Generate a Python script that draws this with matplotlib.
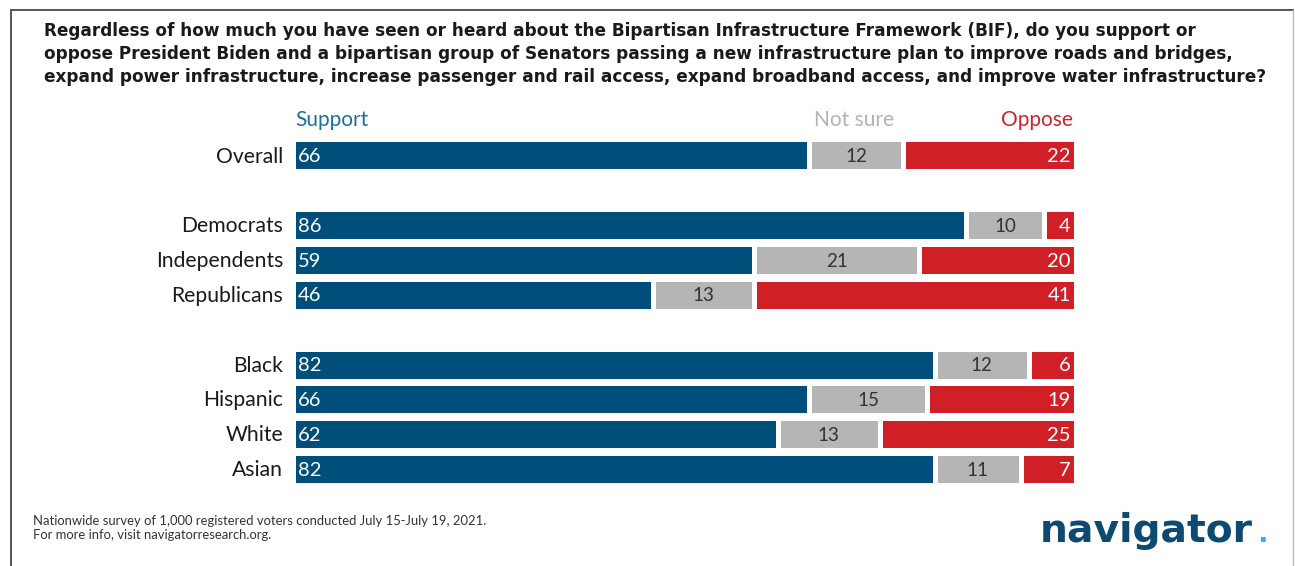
"""Stacked support / not sure / oppose bars for the BIF survey question."""

import matplotlib
matplotlib.use("Agg")
import matplotlib.pyplot as plt
from matplotlib.lines import Line2D

W, H = 1295, 566

categories = ["Overall", "Democrats", "Independents", "Republicans",
              "Black", "Hispanic", "White", "Asian"]
row_pos = [0, 2, 3, 4, 6, 7, 8, 9]
support = [66, 86, 59, 46, 82, 66, 62, 82]
not_sure = [12, 10, 21, 13, 12, 15, 13, 11]
oppose = [22, 4, 20, 41, 6, 19, 25, 7]

TITLE_LINES = [
    "Regardless of how much you have seen or heard about the Bipartisan Infrastructure Framework (BIF), do you support or",
    "oppose President Biden and a bipartisan group of Senators passing a new infrastructure plan to improve roads and bridges,",
    "expand power infrastructure, increase passenger and rail access, expand broadband access, and improve water infrastructure?",
]
FOOTNOTE = ("Nationwide survey of 1,000 registered voters conducted July 15-July 19, 2021.\n"
            "For more info, visit navigatorresearch.org.")

BLUE = "#004e7a"
GRAY = "#b5b5b5"
RED = "#d01f27"
FONT = "Lato"

plt.rcParams["font.family"] = [FONT, "DejaVu Sans"]


def fx(x):
    return x / W


def fy(y):
    return 1 - y / H


fig = plt.figure(figsize=(W / 100, H / 100), dpi=100)
fig.patch.set_facecolor("white")

# bar area: 0..100 spans x 295..1073, rows 0..9 centred 155.5..469
row_px = (469 - 155.5) / 9
top_px = 155.5 - 0.5 * row_px
bot_px = 469 + 0.5 * row_px
ax = fig.add_axes([fx(292.5), fy(bot_px), 783 / W, (bot_px - top_px) / H])
ax.set_xlim(0, 100)
ax.set_ylim(9.5, -0.5)
ax.axis("off")

bar_h = (27 + 5) / row_px
lefts_ns = [s for s in support]
lefts_op = [s + n for s, n in zip(support, not_sure)]
kw = dict(height=bar_h, edgecolor="white", linewidth=3.6)
ax.barh(row_pos, support, left=0, color=BLUE, **kw)
ax.barh(row_pos, not_sure, left=lefts_ns, color=GRAY, **kw)
ax.barh(row_pos, oppose, left=lefts_op, color=RED, **kw)

for y, s, n, o, cat in zip(row_pos, support, not_sure, oppose, categories):
    ax.text(0.7, y + 0.03, str(s), color="white", fontsize=14.5, va="center", ha="left")
    ax.text(s + n / 2, y + 0.03, str(n), color="#333333", fontsize=13.5, va="center", ha="center")
    ax.text(99.4, y + 0.03, str(o), color="white", fontsize=14.5, va="center", ha="right")
    ax.text(-1.2, y + 0.03, cat, color="#1a1a1a", fontsize=15.2, va="center", ha="right")

# column headers
fig.text(fx(295), fy(126.5), "Support", color="#1f6e9c", fontsize=15, va="baseline", ha="left")
fig.text(fx(854), fy(126.5), "Not sure", color="#b3b3b3", fontsize=15, va="baseline", ha="center")
fig.text(fx(1073), fy(126.5), "Oppose", color="#d0212d", fontsize=15, va="baseline", ha="right")

for i, line in enumerate(TITLE_LINES):
    fig.text(fx(44), fy(36.5 + 22.5 * i), line, fontsize=12.2, fontweight="bold",
             family="DejaVu Sans", color="#1a1a1a", va="baseline", ha="left")

fig.text(fx(33), fy(528), FOOTNOTE, fontsize=9.4, color="#333333",
         va="center", ha="left", linespacing=1.15)

fig.text(fx(1040), fy(541.5), "navigator", fontsize=28.3, fontweight="bold",
         family="DejaVu Sans", color="#0c4a70", va="baseline", ha="left")
fig.text(fx(1257), fy(541.5), ".", fontsize=20, fontweight="bold",
         family="DejaVu Sans", color="#2bb6e6", va="baseline", ha="left")

# thin frame around the slide
frame = dict(color="#555555", linewidth=1.4, transform=fig.transFigure)
fig.add_artist(Line2D([fx(11), fx(1293)], [fy(10), fy(10)], **frame))
fig.add_artist(Line2D([fx(11), fx(11)], [fy(10), fy(570)], **frame))
fig.add_artist(Line2D([fx(1293), fx(1293)], [fy(10), fy(570)], color="#bbbbbb",
                      linewidth=1, transform=fig.transFigure))

fig.savefig("out.png", dpi=100, facecolor="white")
plt.close(fig)
